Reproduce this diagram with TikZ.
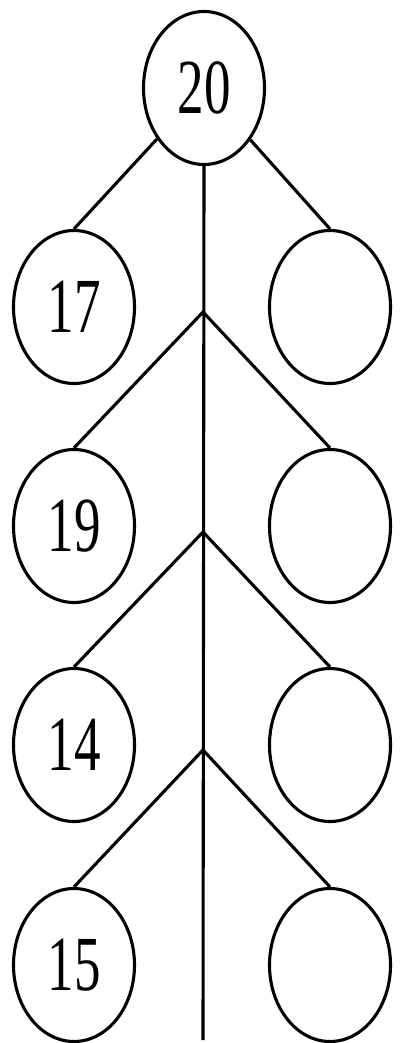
\documentclass[tikz,border=0pt]{standalone}
\usepackage{fontspec}
\setmainfont{Liberation Serif}
\usepackage{graphicx}
\usetikzlibrary{shapes.geometric}
\tikzset{
  bub/.style={draw, ellipse, line width=3.1pt, minimum width=121pt, minimum height=153pt, inner sep=0pt},
  lnk/.style={line width=3.1pt},
}
\newcommand{\numtxt}[1]{\scalebox{0.68}[1]{\fontsize{78}{78}\selectfont #1}}
\begin{document}
\begin{tikzpicture}[x=1pt,y=-1pt]
\useasboundingbox (0,0) rectangle (399,1043);
\node[bub] (top) at (204,88) {\numtxt{20}};
\node[bub] (a1) at (74,307) {\numtxt{17}};
\node[bub] (b1) at (330,307) {};
\node[bub] (a2) at (74,526) {\numtxt{19}};
\node[bub] (b2) at (330,526) {};
\node[bub] (a3) at (74,745) {\numtxt{14}};
\node[bub] (b3) at (330,745) {};
\node[bub] (a4) at (74,965) {\numtxt{15}};
\node[bub] (b4) at (330,965) {};
\coordinate (j1) at (203,312);
\coordinate (j2) at (203,532);
\coordinate (j3) at (203,750);
\coordinate (tail) at (203,1040);
\draw[lnk] (top.south) -- (tail);
\draw[lnk] (top) -- (a1.north);
\draw[lnk] (top) -- (b1.north);
\draw[lnk] (a2.north) -- (j1) -- (b2.north);
\draw[lnk] (a3.north) -- (j2) -- (b3.north);
\draw[lnk] (a4.north) -- (j3) -- (b4.north);
\end{tikzpicture}
\end{document}
